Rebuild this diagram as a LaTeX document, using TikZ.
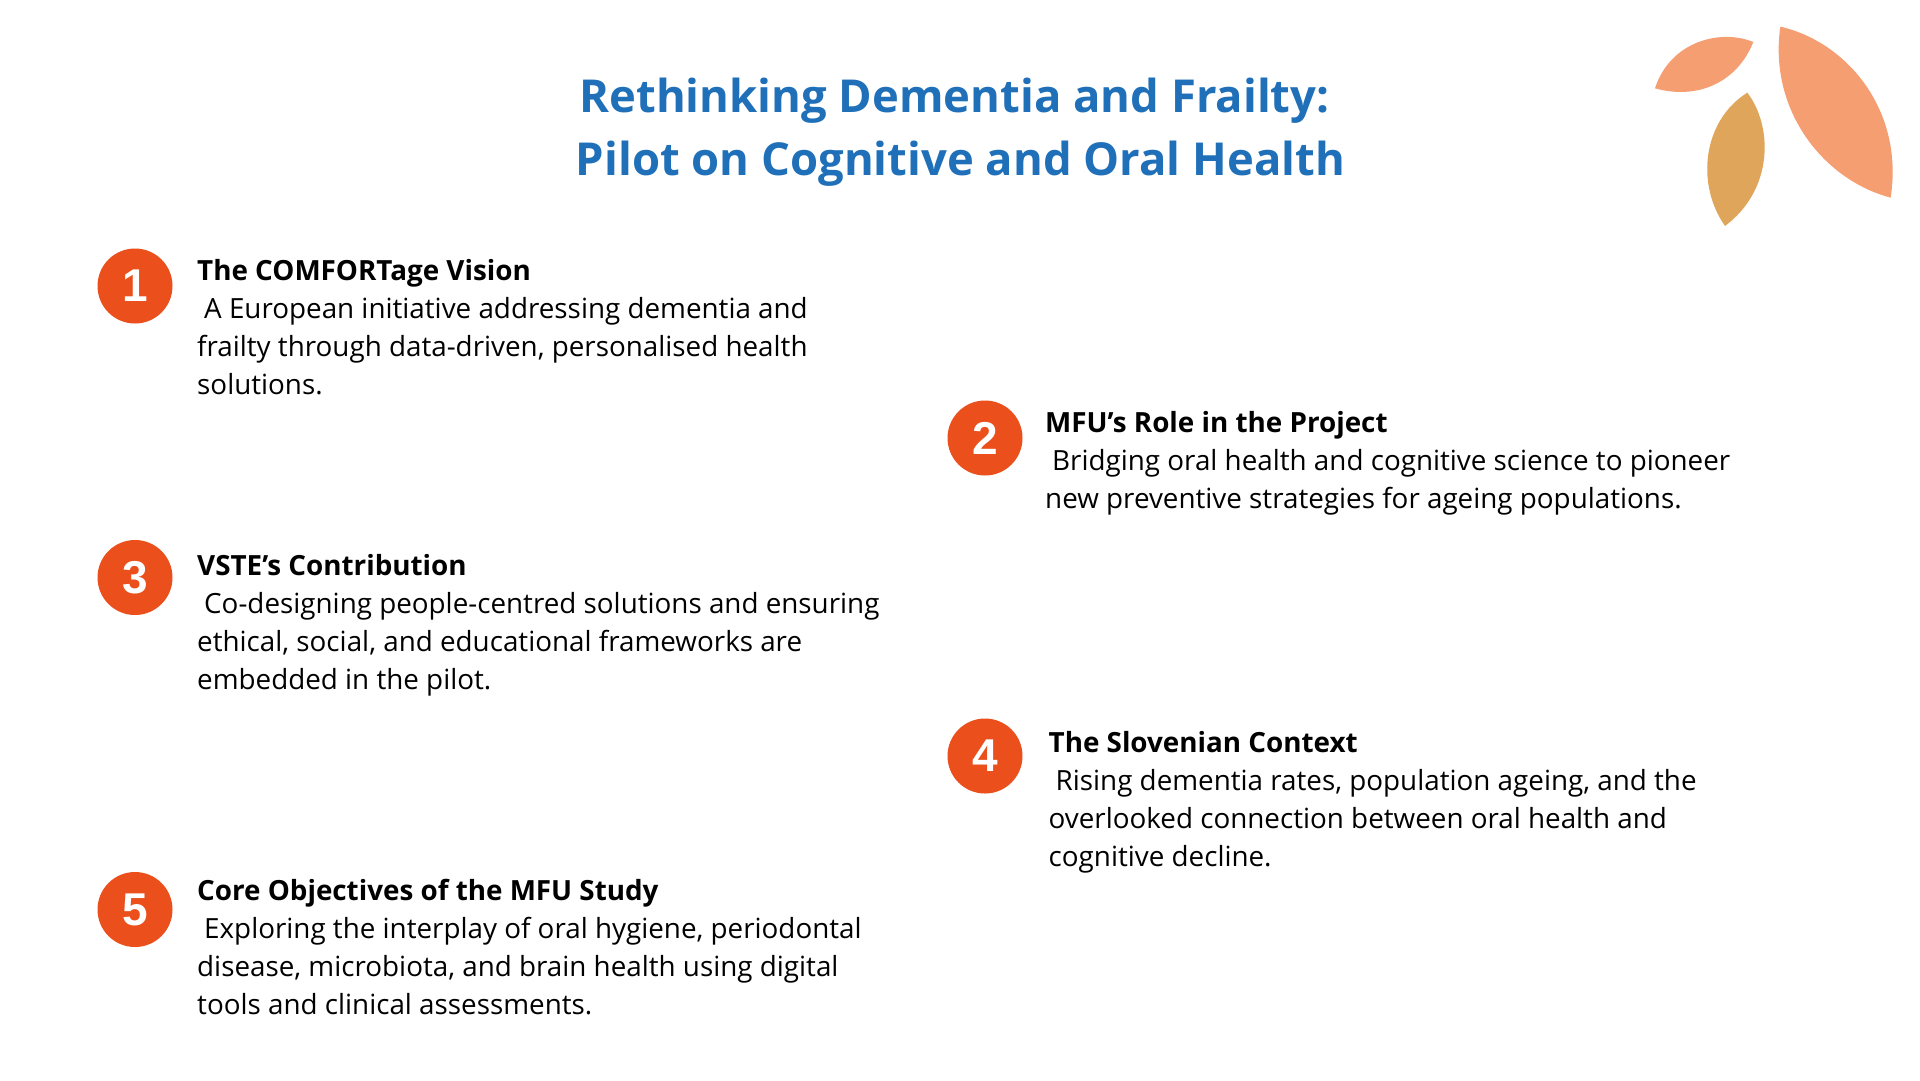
\documentclass[tikz,border=0pt]{standalone}
\usepackage{fontspec}
\setmainfont{Open Sans}
\newfontfamily\digitfont{Liberation Sans}
\definecolor{leafpeach}{HTML}{F59E72}
\definecolor{leafgold}{HTML}{DFA65B}
\definecolor{badgered}{HTML}{EA4F1C}
\definecolor{titleblue}{HTML}{1F70B8}
\tikzset{
  badge/.style={circle,fill=badgered,text=white,minimum size=75pt,inner sep=0pt,font=\digitfont\fontsize{46}{46}\selectfont\bfseries},
  itemtext/.style={anchor=north west,inner sep=0pt,align=left,font=\fontsize{27.8}{38}\selectfont,text=black},
  titletext/.style={anchor=center,inner sep=0pt,align=center,text=titleblue,font=\fontsize{45.4}{63}\selectfont\bfseries}
}
\begin{document}
\begin{tikzpicture}[x=1pt,y=-1pt]
\useasboundingbox (0,0) rectangle (1920,1080);
\fill[white] (0,0) rectangle (1920,1080);
% leaves
\begin{scope}[shift={(1620,0)},x=0.3333pt,y=-0.3333pt]
\fill[leafpeach] (481,80) .. controls (680,125) and (853,330) .. (812,593) .. controls (610,540) and (445,330) .. (481,80) -- cycle;
\fill[leafpeach] (105,265) .. controls (150,125) and (300,85) .. (400,126) .. controls (350,250) and (230,300) .. (105,265) -- cycle;
\fill[leafgold] (382,278) .. controls (250,360) and (225,550) .. (315,678) .. controls (460,570) and (460,380) .. (382,278) -- cycle;
\end{scope}
\node[titletext] (title) at (960.5,132.5) {Rethinking Dementia and Frailty:\hspace*{12pt}\\Pilot on Cognitive and Oral Health};
\node[badge] (b1) at (135,286) {\raisebox{-1pt}{1}};
\node[badge] (b2) at (985,438) {\raisebox{-1pt}{2}};
\node[badge] (b3) at (135,577.5) {\raisebox{-1pt}{3}};
\node[badge] (b4) at (985,756) {\raisebox{-1pt}{4}};
\node[badge] (b5) at (135,909.5) {\raisebox{-1pt}{5}};
\node[itemtext] (t1) at (197,259) {\textbf{The COMFORTage Vision}\\\hspace*{7pt}A European initiative addressing dementia and\\frailty through data-driven, personalised health\\solutions.};
\node[itemtext] (t2) at (1045,411.5) {\textbf{MFU’s Role in the Project}\\\hspace*{7pt}Bridging oral health and cognitive science to pioneer\\new preventive strategies for ageing populations.};
\node[itemtext] (t3) at (197,554.5) {\textbf{VSTE’s Contribution}\\\hspace*{7pt}Co-designing people-centred solutions and ensuring\\ethical, social, and educational frameworks are\\embedded in the pilot.};
\node[itemtext] (t4) at (1048.5,731.5) {\textbf{The Slovenian Context}\\\hspace*{7pt}Rising dementia rates, population ageing, and the\\overlooked connection between oral health and\\cognitive decline.};
\node[itemtext] (t5) at (197,879.5) {\textbf{Core Objectives of the MFU Study}\\\hspace*{7pt}Exploring the interplay of oral hygiene, periodontal\\disease, microbiota, and brain health using digital\\tools and clinical assessments.};
\end{tikzpicture}
\end{document}
